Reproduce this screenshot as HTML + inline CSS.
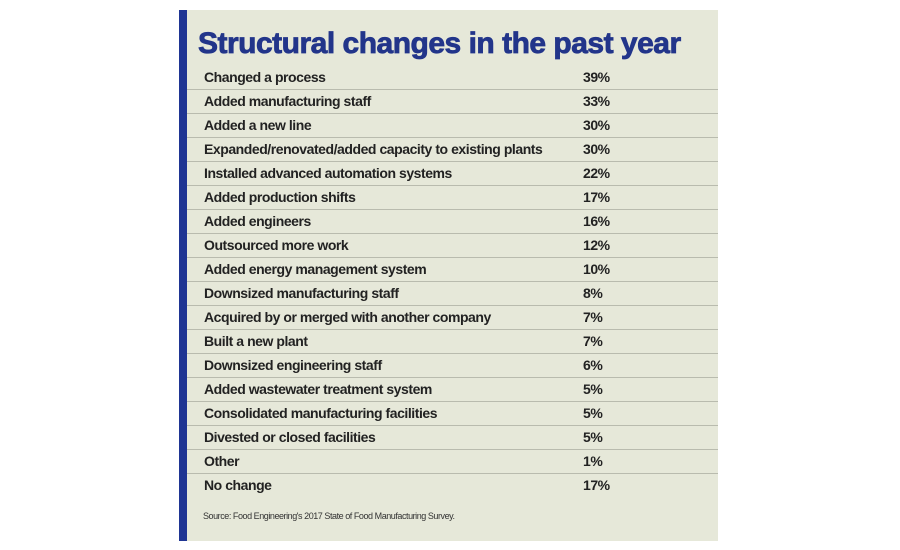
<!DOCTYPE html>
<html><head><style>
body{margin:0;width:900px;height:550px;background:#fff;position:relative;font-family:"Liberation Sans",sans-serif;overflow:hidden}
#p{position:absolute;left:179px;top:10px;width:539px;height:531px;background:#e6e8d9}
#bar{position:absolute;left:179px;top:10px;width:8px;height:531px;background:#1f3593}
h1{position:absolute;left:198px;top:27px;margin:0;font-size:30px;font-weight:900;color:#22358a;letter-spacing:-0.5px;-webkit-text-stroke:0.8px #22358a}
.r{position:absolute;left:187px;width:531px;height:24px;font-size:14px;font-weight:bold;color:#222;letter-spacing:-0.45px}
.r span{position:absolute;top:4px}
.r .a{left:17px}.r .b{left:396px}
.r.l{border-bottom:1.5px solid #b9bbae}
.s{position:absolute;left:203px;top:511px;font-size:9px;color:#333;letter-spacing:-0.45px}
</style></head><body>
<div id="p"></div><div id="bar"></div>
<h1>Structural changes in the past year</h1>
<div class="r l" style="top:65px"><span class="a">Changed a process</span><span class="b">39%</span></div>
<div class="r l" style="top:89px"><span class="a">Added manufacturing staff</span><span class="b">33%</span></div>
<div class="r l" style="top:113px"><span class="a">Added a new line</span><span class="b">30%</span></div>
<div class="r l" style="top:137px"><span class="a">Expanded/renovated/added capacity to existing plants</span><span class="b">30%</span></div>
<div class="r l" style="top:161px"><span class="a">Installed advanced automation systems</span><span class="b">22%</span></div>
<div class="r l" style="top:185px"><span class="a">Added production shifts</span><span class="b">17%</span></div>
<div class="r l" style="top:209px"><span class="a">Added engineers</span><span class="b">16%</span></div>
<div class="r l" style="top:233px"><span class="a">Outsourced more work</span><span class="b">12%</span></div>
<div class="r l" style="top:257px"><span class="a">Added energy management system</span><span class="b">10%</span></div>
<div class="r l" style="top:281px"><span class="a">Downsized manufacturing staff</span><span class="b">8%</span></div>
<div class="r l" style="top:305px"><span class="a">Acquired by or merged with another company</span><span class="b">7%</span></div>
<div class="r l" style="top:329px"><span class="a">Built a new plant</span><span class="b">7%</span></div>
<div class="r l" style="top:353px"><span class="a">Downsized engineering staff</span><span class="b">6%</span></div>
<div class="r l" style="top:377px"><span class="a">Added wastewater treatment system</span><span class="b">5%</span></div>
<div class="r l" style="top:401px"><span class="a">Consolidated manufacturing facilities</span><span class="b">5%</span></div>
<div class="r l" style="top:425px"><span class="a">Divested or closed facilities</span><span class="b">5%</span></div>
<div class="r l" style="top:449px"><span class="a">Other</span><span class="b">1%</span></div>
<div class="r" style="top:473px"><span class="a">No change</span><span class="b">17%</span></div>
<div class="s">Source: Food Engineering's 2017 State of Food Manufacturing Survey.</div>
</body></html>
